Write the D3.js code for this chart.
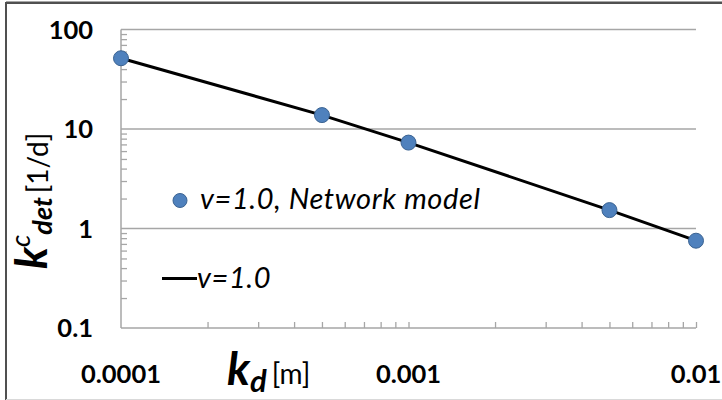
<!DOCTYPE html>
<html>
<head>
<meta charset="utf-8">
<script src="https://cdn.jsdelivr.net/npm/d3@7"></script>
<style>
  html, body { margin: 0; padding: 0; background: #fff; }
  svg { display: block; font-family: Lato, "Open Sans", sans-serif; }
</style>
</head>
<body>
<svg id="chart" width="722" height="400"></svg>
<script>
// Detachment rate vs. roughness height (log-log)
const kdValues = [0.0001, 0.0005, 0.001, 0.005, 0.01];
const networkModel = [51.4, 13.8, 7.3, 1.53, 0.754];
const modelKd = [0.0001, 0.0005, 0.001, 0.005, 0.01];
const modelCurve = [51.4, 13.8, 7.3, 1.53, 0.754];
const xTickValues = [0.0001, 0.001, 0.01];
const xTickLabels = ["0.0001", "0.001", "0.01"];
const yTickValues = [0.1, 1, 10, 100];
const yTickLabels = ["0.1", "1", "10", "100"];
const legendLabels = ["v=1.0, Network model", "v=1.0"];

const svg = d3.select("#chart");
const W = 722, H = 400;
const plot = { left: 121, right: 696, top: 29.5, bottom: 328 };
const gridColor = "#a6a6a6";

const x = d3.scaleLog().domain([0.0001, 0.01]).range([plot.left, plot.right]);
const y = d3.scaleLog().domain([0.1, 100]).range([plot.bottom, plot.top]);

// outer frame
svg.append("rect").attr("x", 0).attr("y", 0).attr("width", W).attr("height", H).attr("fill", "#fff");
svg.append("line").attr("x1", 6).attr("x2", W).attr("y1", 2.8).attr("y2", 2.8)
  .attr("stroke", "#505050").attr("stroke-width", 2.5);
svg.append("line").attr("x1", 6).attr("x2", 6).attr("y1", 2).attr("y2", H)
  .attr("stroke", "#505050").attr("stroke-width", 2);
svg.append("line").attr("x1", 6).attr("x2", W).attr("y1", 399.5).attr("y2", 399.5)
  .attr("stroke", "#d9d9d9").attr("stroke-width", 1);

// horizontal gridlines at decades
svg.append("g").selectAll("line").data(yTickValues).join("line")
  .attr("x1", plot.left).attr("x2", plot.right)
  .attr("y1", d => y(d)).attr("y2", d => y(d))
  .attr("stroke", gridColor).attr("stroke-width", 1.5);

// left axis line
svg.append("line").attr("x1", plot.left).attr("x2", plot.left)
  .attr("y1", plot.top).attr("y2", plot.bottom)
  .attr("stroke", gridColor).attr("stroke-width", 1.5);

// inside ticks (minor + major) via d3 axes
const xTicks = x.ticks().filter(d => d > 0.0001 * 1.0001);
const xAxis = d3.axisTop(x).tickValues(xTicks).tickSize(6).tickFormat("");
const gx = svg.append("g").attr("transform", `translate(0,${plot.bottom})`).call(xAxis);
gx.select(".domain").remove();
gx.selectAll(".tick line").attr("stroke", gridColor).attr("stroke-width", 1.3);

const yTicks = y.ticks().filter(d => d < 99.99 && Math.abs(Math.log10(d) - Math.round(Math.log10(d))) > 1e-6);
const yAxis = d3.axisRight(y).tickValues(yTicks).tickSize(6).tickFormat("");
const gy = svg.append("g").attr("transform", `translate(${plot.left},0)`).call(yAxis);
gy.select(".domain").remove();
gy.selectAll(".tick line").attr("stroke", gridColor).attr("stroke-width", 1.3);

// tick labels
svg.append("g").selectAll("text").data(yTickValues).join("text")
  .attr("x", 93).attr("y", d => y(d)).attr("dy", "0.36em")
  .attr("text-anchor", "end").attr("font-weight", "bold").attr("font-size", 25.5)
  .text((d, i) => yTickLabels[i]);

svg.append("g").selectAll("text").data(xTickValues).join("text")
  .attr("x", d => x(d)).attr("y", 382.5)
  .attr("text-anchor", "middle").attr("font-weight", "bold").attr("font-size", 25.5)
  .text((d, i) => xTickLabels[i]);

// axis titles
const xt = svg.append("text").attr("x", 227).attr("y", 385);
xt.append("tspan").attr("font-size", 46).attr("font-weight", "bold").attr("font-style", "italic").text("k");
xt.append("tspan").attr("font-size", 31).attr("font-weight", "bold").attr("font-style", "italic").attr("dy", 7).text("d");
xt.append("tspan").attr("font-size", 28).attr("dy", -8).attr("dx", 5).text("[m]");

const yt = svg.append("text").attr("transform", "translate(47,269) rotate(-90)");
yt.append("tspan").attr("font-size", 44).attr("font-weight", "bold").attr("font-style", "italic").text("k");
yt.append("tspan").attr("font-size", 27).attr("font-style", "italic").attr("dy", -17).text("c");
yt.append("tspan").attr("font-size", 27).attr("font-weight", "bold").attr("font-style", "italic").attr("dy", 22).text("det");
yt.append("tspan").attr("font-size", 28).attr("dy", -4).attr("dx", 4).text("[1/d]");

// model curve
const line = d3.line().x(d => x(d[0])).y(d => y(d[1]));
svg.append("path").datum(modelKd.map((k, i) => [k, modelCurve[i]]))
  .attr("d", line).attr("fill", "none").attr("stroke", "#000").attr("stroke-width", 3);

// network model points
svg.append("g").selectAll("circle").data(kdValues.map((k, i) => [k, networkModel[i]])).join("circle")
  .attr("cx", d => x(d[0])).attr("cy", d => y(d[1])).attr("r", 7.5)
  .attr("fill", "#4f81bd").attr("stroke", "#3b6392").attr("stroke-width", 1);

// legend
svg.append("circle").attr("cx", 180).attr("cy", 200.5).attr("r", 7)
  .attr("fill", "#4f81bd").attr("stroke", "#3b6392").attr("stroke-width", 1);
svg.append("text").attr("x", 200).attr("y", 208.5).attr("font-size", 29).attr("font-style", "italic")
  .attr("letter-spacing", 0.6).text(legendLabels[0]);
svg.append("line").attr("x1", 162).attr("x2", 197).attr("y1", 278.5).attr("y2", 278.5)
  .attr("stroke", "#000").attr("stroke-width", 3);
svg.append("text").attr("x", 197).attr("y", 288).attr("font-size", 29).attr("font-style", "italic")
  .attr("letter-spacing", 0.6).text(legendLabels[1]);
</script>
</body>
</html>
